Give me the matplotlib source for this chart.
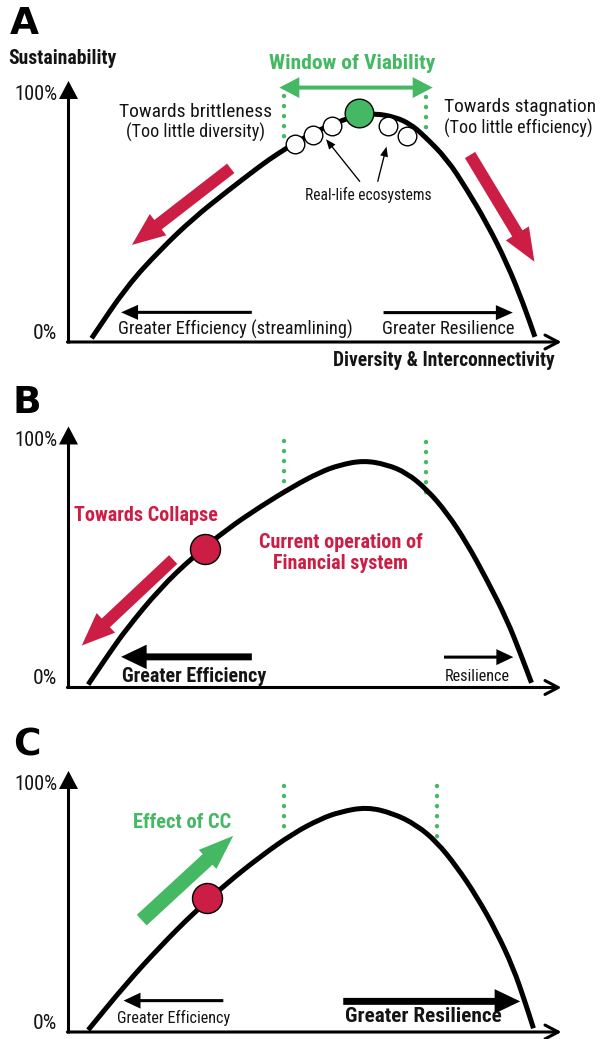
import matplotlib
matplotlib.use("Agg")
import matplotlib.pyplot as plt
from matplotlib import font_manager as fm
from matplotlib.patches import FancyArrowPatch, PathPatch
from matplotlib.path import Path

# ---------------- data ----------------
# x: diversity & interconnectivity (0-100 along the axis), y: sustainability (%)
curve_a_x = [4.7, 11.8, 18.6, 25.4, 32.2, 39.0, 42.6, 47.1, 51.2, 55.2, 59.3, 62.4,
             66.4, 69.5, 72.2, 77.0, 81.0, 85.1, 89.2, 92.5, 94.9]
curve_a_y = [1.5, 22.4, 37.2, 50.1, 60.9, 71.3, 76.3, 81.8, 86.0, 89.5, 91.9, 92.5,
             91.1, 88.3, 83.8, 74.1, 61.9, 48.1, 31.9, 15.7, 2.1]
curve_b_x = [4.0, 8.4, 11.8, 18.6, 25.4, 32.2, 39.0, 45.7, 51.2, 55.2, 60.0, 64.7,
             68.8, 72.9, 77.0, 81.0, 85.1, 89.2, 91.9, 94.2]
curve_b_y = [1.2, 14.2, 23.7, 40.1, 53.0, 64.0, 73.2, 81.4, 87.2, 90.1, 91.9, 90.3,
             86.9, 80.2, 70.7, 58.6, 43.7, 27.5, 14.0, 1.9]
curve_c_x = [4.0, 11.8, 18.6, 25.4, 32.2, 39.0, 45.7, 51.2, 55.2, 60.7, 66.1, 70.8,
             74.9, 79.0, 83.1, 87.1, 90.5, 92.9, 94.6]
curve_c_y = [0.8, 19.7, 34.5, 48.1, 60.2, 71.0, 80.4, 86.2, 89.1, 91.1, 88.5, 83.8,
             77.0, 66.9, 54.7, 40.5, 25.9, 12.1, 1.5]

# window of viability edges (x, top, bottom)
win_a_x, win_a_top, win_a_bot = [43.9, 72.7], [99.7, 99.1], [82.9, 81.8]
win_b_x, win_b_top, win_b_bot = [43.9, 72.7], [99.7, 99.5], [83.3, 78.8]
win_c_x, win_c_top, win_c_bot = [43.9, 74.9], [99.6, 99.6], [82.7, 78.4]

# real-life ecosystems and markers
eco_x = [46.1, 49.8, 53.6, 65.1, 68.8]
eco_y = [80.2, 83.8, 87.6, 87.4, 83.4]
viable_x, viable_y = [59.2], [92.6]
fin_b_x, fin_b_y = [27.8], [55.9]
fin_c_x, fin_c_y = [28.1], [54.1]

# arrows: (start, end)
a_red_left = [(33.0, 70.3), (12.9, 39.3)]
a_red_right = [(81.7, 75.7), (94.8, 32.5)]
a_window_ends = [42.9, 74.1]
a_window_y = 103.0
a_eco_ptr = [[(59.3, 64.9), (52.4, 82.1)], [(62.9, 64.9), (64.7, 79.1)]]
a_eff = [(37.3, 12.0), (10.7, 12.0)]
a_res = [(64.1, 11.9), (90.4, 11.9)]
b_red = [(21.3, 51.8), (2.7, 17.0)]
b_eff = [(37.3, 12.4), (10.7, 12.4)]
b_res = [(76.4, 12.3), (90.5, 12.3)]
c_green = [(14.9, 45.3), (33.5, 79.4)]
c_eff = [(31.5, 12.7), (11.2, 12.7)]
c_res = [(55.9, 12.4), (91.9, 12.4)]

y_tick_labels = ["100%", "0%"]
y_tick_values = [100, 3.6]

GREEN = "#45b863"
RED = "#cc1e45"
INK = "#141414"


# ---------------- font choice (narrow face if available) ----------------
def pick_font():
    entries = fm.fontManager.ttflist
    names = {e.name: e for e in entries}
    for n in ["Liberation Sans Narrow", "Roboto Condensed", "Open Sans Condensed",
              "Noto Sans Condensed"]:
        if n in names:
            return n, names[n].stretch
    for fam in ["Noto Sans", "Open Sans", "DejaVu Sans", "Roboto", "Lato", "Inter"]:
        for e in entries:
            if e.name == fam and str(e.stretch) in ("condensed", "semi-condensed",
                                                     "extra-condensed", "ultra-condensed"):
                return fam, e.stretch
    return "Roboto", "normal"


FAM, STRETCH = pick_font()

fig = plt.figure(figsize=(6.02, 10.39), dpi=100)
fig.patch.set_facecolor("white")

W, H = 602.0, 1039.0
fit_texts = []


def make_axes(y0):
    ax = fig.add_axes([68.5 / W, 1 - y0 / H, 491.5 / W, 247 / H])
    ax.set_xlim(0, 100)
    ax.set_ylim(0, 100)
    ax.axis("off")
    return ax


def label(ax, x, y, s, size, target=None, weight="normal", color=INK, ha="left"):
    t = ax.text(x, y, s, fontsize=size, fontweight=weight, color=color, ha=ha,
                va="center", family=FAM, fontstretch=STRETCH, clip_on=False, zorder=6)
    if target:
        fit_texts.append((t, target))
    return t


def block_arrow(ax, p0, p1, tail, hw, hl, color, z=4):
    a = FancyArrowPatch(p0, p1,
                        arrowstyle=f"simple,head_length={hl},head_width={hw},tail_width={tail}",
                        mutation_scale=1, color=color, lw=0, shrinkA=0, shrinkB=0,
                        zorder=z, clip_on=False)
    ax.add_patch(a)


def smooth_curve(ax, xs, ys):
    pts = list(zip(xs, ys))
    verts = [pts[0], ((pts[0][0] + pts[1][0]) / 2, (pts[0][1] + pts[1][1]) / 2)]
    codes = [Path.MOVETO, Path.LINETO]
    for i in range(1, len(pts) - 1):
        mid = ((pts[i][0] + pts[i + 1][0]) / 2, (pts[i][1] + pts[i + 1][1]) / 2)
        verts += [pts[i], mid]
        codes += [Path.CURVE3, Path.CURVE3]
    verts.append(pts[-1])
    codes.append(Path.LINETO)
    ax.add_patch(PathPatch(Path(verts, codes), fill=False, lw=3.6, edgecolor="black",
                           capstyle="butt", joinstyle="round", clip_on=False, zorder=3))


def frame(ax):
    block_arrow(ax, (0, -0.6), (0, 105.7), 2.2, 13.7, 13.0, "black", z=2)
    ax.add_patch(FancyArrowPatch((-0.22, 0), (100.3, 0),
                                 arrowstyle="->,head_length=9.5,head_width=5",
                                 mutation_scale=1, lw=2.2, color="black",
                                 shrinkA=0, shrinkB=0, clip_on=False, zorder=2))
    for s, v in zip(y_tick_labels, y_tick_values):
        label(ax, -2.3, v, s, 14, target=45 if len(s) > 2 else 26, ha="right")


def window(ax, xs, tops, bots):
    for x, t, b in zip(xs, tops, bots):
        ax.plot([x, x], [t, b], color=GREEN, lw=3.2, linestyle=(0, (0.01, 2.25)),
                dash_capstyle="round", clip_on=False, zorder=2)


def panel_letter(ax, x, y, s):
    ax.text(x, y, s, fontsize=27, fontweight="heavy", family="DejaVu Sans",
            color="black", ha="left", va="center", clip_on=False)


# ---------------- Panel A ----------------
ax = make_axes(342)
frame(ax)
panel_letter(ax, -11.9, 128.7, "A")
label(ax, -12.3, 114.6, "Sustainability", 13, target=113, weight="bold")
label(ax, 99.0, -7.3, "Diversity & Interconnectivity", 13, target=233, weight="bold", ha="right")
smooth_curve(ax, curve_a_x, curve_a_y)
window(ax, win_a_x, win_a_top, win_a_bot)
mid = (a_window_ends[0] + a_window_ends[1]) / 2
for e in a_window_ends:
    block_arrow(ax, (mid, a_window_y), (e, a_window_y), 2.9, 15.0, 14.4, GREEN)
label(ax, 57.7, 112.6, "Window of Viability", 15, target=169, weight="bold", color=GREEN, ha="center")
ax.plot(eco_x, eco_y, "o", ms=13.4, mfc="white", mec="black", mew=1.0, clip_on=False, zorder=5)
ax.plot(viable_x, viable_y, "o", ms=20.6, mfc=GREEN, mec="black", mew=1.0, clip_on=False, zorder=5)
for p0, p1 in a_eco_ptr:
    block_arrow(ax, p0, p1, 0.95, 5.8, 7.2, "black")
label(ax, 60.9, 59.5, "Real-life ecosystems", 10, target=136, ha="center")
label(ax, 25.9, 93.1, "Towards brittleness", 13, target=159, ha="center")
label(ax, 25.9, 85.0, "(Too little diversity)", 13, target=139, ha="center")
label(ax, 76.4, 95.0, "Towards stagnation", 13, target=158)
label(ax, 76.4, 86.4, "(Too little efficiency)", 13, target=149)
block_arrow(ax, a_red_left[0], a_red_left[1], 8.6, 19.4, 23.8, RED)
block_arrow(ax, a_red_right[0], a_red_right[1], 8.6, 19.4, 23.8, RED)
block_arrow(ax, a_eff[0], a_eff[1], 2.2, 10.8, 12.2, "black")
block_arrow(ax, a_res[0], a_res[1], 2.2, 10.8, 12.2, "black")
label(ax, 10.1, 4.9, "Greater Efficiency (streamlining)", 13, target=238)
label(ax, 63.7, 5.1, "Greater Resilience", 13, target=135)

# ---------------- Panel B ----------------
ax = make_axes(687.5)
frame(ax)
panel_letter(ax, -11.3, 115.0, "B")
smooth_curve(ax, curve_b_x, curve_b_y)
window(ax, win_b_x, win_b_top, win_b_bot)
ax.plot(fin_b_x, fin_b_y, "o", ms=21.6, mfc=RED, mec="black", mew=1.0, clip_on=False, zorder=5)
label(ax, 1.1, 69.6, "Towards Collapse", 14, target=147, weight="bold", color=RED)
label(ax, 55.4, 58.7, "Current operation of", 14, target=168, weight="bold", color=RED, ha="center")
label(ax, 55.4, 50.2, "Financial system", 14, target=138, weight="bold", color=RED, ha="center")
block_arrow(ax, b_red[0], b_red[1], 8.6, 19.4, 23.8, RED)
block_arrow(ax, b_eff[0], b_eff[1], 5.0, 17.6, 18.4, "black")
block_arrow(ax, b_res[0], b_res[1], 2.2, 11.5, 12.2, "black")
label(ax, 10.8, 4.6, "Greater Efficiency", 14, target=148, weight="bold")
label(ax, 76.6, 4.3, "Resilience", 11, target=68)

# ---------------- Panel C ----------------
ax = make_axes(1032)
frame(ax)
panel_letter(ax, -11.3, 116.0, "C")
smooth_curve(ax, curve_c_x, curve_c_y)
window(ax, win_c_x, win_c_top, win_c_bot)
ax.plot(fin_c_x, fin_c_y, "o", ms=21.6, mfc=RED, mec="black", mew=1.0, clip_on=False, zorder=5)
block_arrow(ax, c_green[0], c_green[1], 10.4, 18.7, 25.0, GREEN)
label(ax, 13.1, 85.0, "Effect of CC", 14, target=102, weight="bold", color=GREEN)
block_arrow(ax, c_eff[0], c_eff[1], 2.2, 11.5, 12.2, "black")
block_arrow(ax, c_res[0], c_res[1], 5.0, 17.6, 18.4, "black")
label(ax, 9.9, 5.5, "Greater Efficiency", 11, target=117)
label(ax, 56.3, 6.2, "Greater Resilience", 14, target=168, weight="bold")

# fit text widths to the original (shrink fully, grow gently)
fig.canvas.draw()
rend = fig.canvas.get_renderer()
for t, w in fit_texts:
    bw = t.get_window_extent(rend).width
    f = w / bw
    if f < 1:
        t.set_fontsize(t.get_fontsize() * f)
    else:
        t.set_fontsize(t.get_fontsize() * min(f, 1.25) ** 0.6)

fig.savefig("out.png", dpi=100, facecolor="white")
